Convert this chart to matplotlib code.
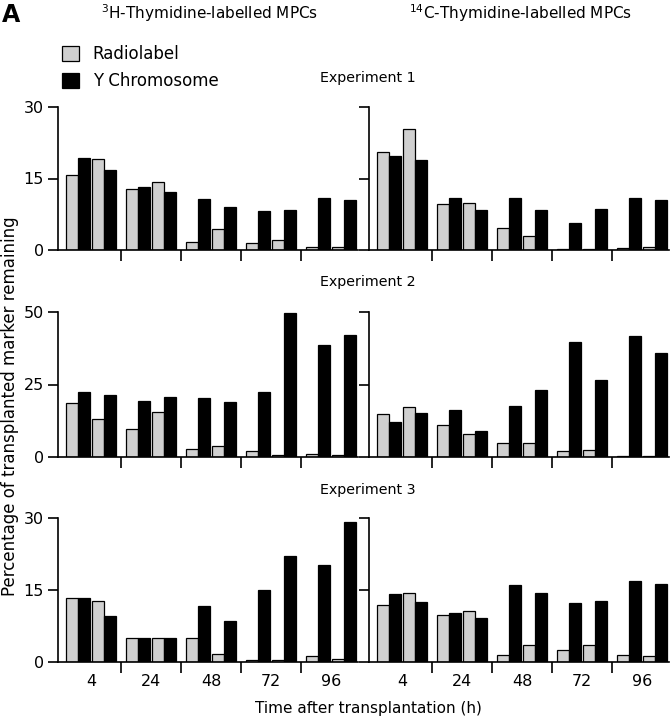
import numpy as np
import matplotlib.pyplot as plt

times = ["4", "24", "48", "72", "96"]

# each group: two radiolabel / Y chromosome pairs
# experiment 1
h3_exp1_radio = [15.8, 12.7, 1.7, 1.5, 0.6]
h3_exp1_y = [19.3, 13.3, 10.7, 8.1, 11.0]
h3_exp1_radio2 = [19.1, 14.3, 4.5, 2.0, 0.7]
h3_exp1_y2 = [16.7, 12.2, 9.1, 8.4, 10.4]
c14_exp1_radio = [20.6, 9.6, 4.7, 0.15, 0.5]
c14_exp1_y = [19.8, 11.0, 11.0, 5.6, 11.0]
c14_exp1_radio2 = [25.4, 9.9, 2.9, 0.3, 0.6]
c14_exp1_y2 = [18.8, 8.4, 8.3, 8.7, 10.4]
# experiment 2
h3_exp2_radio = [18.5, 9.5, 2.7, 2.1, 1.2]
h3_exp2_y = [22.3, 19.4, 20.3, 22.5, 38.6]
h3_exp2_radio2 = [13.2, 15.6, 3.8, 0.8, 0.7]
h3_exp2_y2 = [21.4, 20.8, 18.8, 49.7, 42.1]
c14_exp2_radio = [14.7, 11.1, 5.0, 2.1, 0.5]
c14_exp2_y = [12.1, 16.1, 17.5, 39.5, 41.6]
c14_exp2_radio2 = [17.1, 7.8, 5.0, 2.5, 0.2]
c14_exp2_y2 = [15.2, 9.1, 23.0, 26.4, 35.8]
# experiment 3
h3_exp3_radio = [13.3, 4.9, 4.9, 0.5, 1.25]
h3_exp3_y = [13.3, 4.9, 11.7, 14.9, 20.3]
h3_exp3_radio2 = [12.8, 4.9, 1.6, 0.5, 0.7]
h3_exp3_y2 = [9.5, 4.9, 8.5, 22.1, 29.2]
c14_exp3_radio = [11.8, 9.8, 1.5, 2.4, 1.5]
c14_exp3_y = [14.2, 10.3, 16.1, 12.2, 16.8]
c14_exp3_radio2 = [14.4, 10.7, 3.6, 3.5, 1.3]
c14_exp3_y2 = [12.6, 9.1, 14.4, 12.8, 16.3]

panels = [
    [(h3_exp1_radio, h3_exp1_y, h3_exp1_radio2, h3_exp1_y2),
     (c14_exp1_radio, c14_exp1_y, c14_exp1_radio2, c14_exp1_y2)],
    [(h3_exp2_radio, h3_exp2_y, h3_exp2_radio2, h3_exp2_y2),
     (c14_exp2_radio, c14_exp2_y, c14_exp2_radio2, c14_exp2_y2)],
    [(h3_exp3_radio, h3_exp3_y, h3_exp3_radio2, h3_exp3_y2),
     (c14_exp3_radio, c14_exp3_y, c14_exp3_radio2, c14_exp3_y2)],
]
ymax = [30, 50, 30]
yticks = [[0, 15, 30], [0, 25, 50], [0, 15, 30]]

W, H = 670, 719
fig = plt.figure(figsize=(W / 100, H / 100), dpi=100)
plt.rcParams['font.family'] = 'DejaVu Sans'

grey = '#d0d0d0'
bw = 0.195
offsets = [-0.315, -0.12, 0.12, 0.315]
colors = [grey, 'black', grey, 'black']

# row geometry in pixels: (top, bottom)
rows_px = [(107, 250), (312, 457), (518, 662)]
cols_px = [(58, 358), (369, 669)]

x = np.arange(len(times))
handles = None
for r, (top, bot) in enumerate(rows_px):
    for c, (left, right) in enumerate(cols_px):
        ax = fig.add_axes([left / W, 1 - bot / H, (right - left) / W, (bot - top) / H])
        series = panels[r][c]
        bars = []
        for k in range(4):
            b = ax.bar(x + offsets[k], series[k], width=bw, color=colors[k],
                       edgecolor='black', linewidth=0.9)
            bars.append(b)
        if handles is None:
            handles = bars[:2]
        ax.set_xlim(-0.55, 4.45)
        ax.set_ylim(0, ymax[r])
        ax.spines['top'].set_visible(False)
        ax.spines['right'].set_visible(False)
        ax.spines['left'].set_linewidth(1.2)
        ax.spines['bottom'].set_linewidth(1.2)
        ax.set_yticks(yticks[r])
        ax.tick_params(axis='y', length=7, width=1.2, labelsize=11.5, pad=3)
        if c == 1:
            ax.set_yticklabels([])
        ax.set_xticks(x)
        ax.set_xticks(x[:-1] + 0.5, minor=True)
        ax.tick_params(axis='x', which='major', length=0, labelsize=11.5, pad=9)
        ax.tick_params(axis='x', which='minor', length=8, width=1.2)
        if r == 2:
            ax.set_xticklabels(times)
        else:
            ax.set_xticklabels([])


def t(xp, yp, s, **kw):
    fig.text(xp / W, 1 - yp / H, s, **kw)


t(2, 15, "A", fontsize=17, fontweight='bold', va='center', ha='left')
t(210, 13, r"$^{3}$H-Thymidine-labelled MPCs", fontsize=11, ha='center', va='center')
t(521, 13, r"$^{14}$C-Thymidine-labelled MPCs", fontsize=11, ha='center', va='center')
for yp, lab in [(78, "Experiment 1"), (282, "Experiment 2"), (490, "Experiment 3")]:
    t(368, yp, lab, fontsize=10.3, ha='center', va='center')
t(10, 406, "Percentage of transplanted marker remaining", fontsize=12,
  rotation=90, ha='center', va='center')
t(368, 709, "Time after transplantation (h)", fontsize=11, ha='center', va='center')

fig.legend(handles, ["Radiolabel", "Y Chromosome"], loc='upper left',
           bbox_to_anchor=(62 / W, 1 - 45 / H), frameon=False, fontsize=12,
           borderpad=0, borderaxespad=0,
           handlelength=1.0, handleheight=1.0, handletextpad=0.85, labelspacing=0.55)

fig.savefig("out.png", dpi=100)
